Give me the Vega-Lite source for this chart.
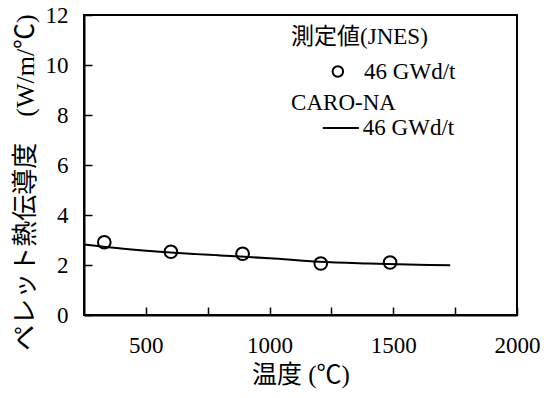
{
  "$schema": "https://vega.github.io/schema/vega-lite/v6.json",
  "width": 433,
  "height": 300,
  "autosize": "none",
  "padding": {"left": 84, "top": 15, "right": 35, "bottom": 83},
  "background": "white",
  "config": {
    "font": "Liberation Serif, Noto Sans CJK JP",
    "view": {"stroke": "black", "strokeWidth": 2},
    "axis": {
      "grid": false,
      "domainColor": "black",
      "domainWidth": 2,
      "tickColor": "black",
      "tickWidth": 1.5,
      "tickSize": -8,
      "labelColor": "black",
      "labelFont": "Liberation Serif",
      "labelFontSize": 23,
      "titleColor": "black",
      "titleFont": "Liberation Serif, Noto Sans CJK JP",
      "titleFontSize": 25,
      "titleFontWeight": "normal"
    }
  },
  "encoding": {
    "x": {
      "field": "T",
      "type": "quantitative",
      "scale": {"domain": [250, 2000], "nice": false, "zero": false},
      "axis": {
        "title": "温度 (℃)",
        "values": [500, 750, 1000, 1250, 1500, 1750, 2000],
        "format": "d",
        "labelExpr": "datum.value % 500 == 0 ? datum.label : ''",
        "labelPadding": 27,
        "labelFlush": false,
        "titlePadding": 5
      }
    },
    "y": {
      "field": "k",
      "type": "quantitative",
      "scale": {"domain": [0, 12], "nice": false},
      "axis": {
        "title": "ペレット熱伝導度　(W/m/℃)",
        "values": [0, 2, 4, 6, 8, 10, 12],
        "labelPadding": 24,
        "titlePadding": 7,
        "titleY": 167,
        "titleFontSize": 26
      }
    }
  },
  "layer": [
    {
      "data": {"values": [
        {"T": 250, "k": 2.82},
        {"T": 400, "k": 2.66},
        {"T": 600, "k": 2.5},
        {"T": 800, "k": 2.38},
        {"T": 1000, "k": 2.27},
        {"T": 1200, "k": 2.13},
        {"T": 1400, "k": 2.06},
        {"T": 1600, "k": 2.01},
        {"T": 1730, "k": 1.99}
      ]},
      "mark": {"type": "line", "color": "black", "strokeWidth": 2, "interpolate": "monotone"}
    },
    {
      "data": {"values": [
        {"T": 332, "k": 2.91},
        {"T": 601, "k": 2.53},
        {"T": 891, "k": 2.45},
        {"T": 1207, "k": 2.06},
        {"T": 1487, "k": 2.1}
      ]},
      "mark": {"type": "point", "shape": "circle", "filled": false, "color": "black", "strokeWidth": 2, "size": 160, "opacity": 1}
    },
    {
      "data": {"values": [
        {"T": 1087, "k": 11.13, "label": "測定値(JNES)"},
        {"T": 1382, "k": 9.74, "label": "46 GWd/t"},
        {"T": 1087, "k": 8.49, "label": "CARO-NA"},
        {"T": 1377, "k": 7.49, "label": "46 GWd/t"}
      ]},
      "mark": {"type": "text", "align": "left", "baseline": "middle", "fontSize": 23, "color": "black", "font": "Liberation Serif, Noto Sans CJK JP"},
      "encoding": {"text": {"field": "label"}}
    },
    {
      "data": {"values": [{"T": 1276, "k": 9.74}]},
      "mark": {"type": "point", "shape": "circle", "filled": false, "color": "black", "strokeWidth": 2, "size": 110, "opacity": 1}
    },
    {
      "data": {"values": [{"T": 1215, "T2": 1361, "k": 7.48}]},
      "mark": {"type": "rule", "color": "black", "strokeWidth": 2},
      "encoding": {"x2": {"field": "T2"}}
    }
  ]
}
